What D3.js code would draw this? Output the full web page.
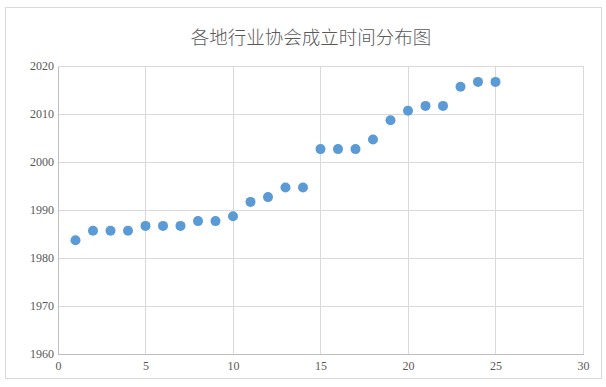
<!DOCTYPE html>
<html>
<head>
<meta charset="utf-8">
<script src="https://cdn.jsdelivr.net/npm/d3@7"></script>
<style>
  body { margin: 0; background: #fff; }
  svg { display: block; }
  .tick text { font-family: "Liberation Serif", "DejaVu Serif", serif; }
</style>
</head>
<body>
<svg id="chart" width="606" height="387"></svg>
<script>
// association index and founding year
const idx = [1,2,3,4,5,6,7,8,9,10,11,12,13,14,15,16,17,18,19,20,21,22,23,24,25];
const years = [1984,1986,1986,1986,1987,1987,1987,1988,1988,1989,1992,1993,1995,1995,2003,2003,2003,2005,2009,2011,2012,2012,2016,2017,2017];
const xTicks = [0,5,10,15,20,25,30];
const yTicks = [1960,1970,1980,1990,2000,2010,2020];
const title = "各地行业协会成立时间分布图";

const svg = d3.select("#chart");
const margin = {top: 66, right: 23, bottom: 33, left: 58};
const width = 606, height = 387;

svg.append("rect")
  .attr("x", 5.5).attr("y", 7.5)
  .attr("width", 596).attr("height", 371)
  .attr("fill", "#fff").attr("stroke", "#d9d9d9");

const x = d3.scaleLinear().domain([0, 30]).range([margin.left, width - margin.right]);
const y = d3.scaleLinear().domain([1960, 2020]).range([height - margin.bottom, margin.top]);

// grid
const grid = svg.append("g").attr("stroke", "#d9d9d9").attr("shape-rendering", "crispEdges");
grid.selectAll(".gx").data(xTicks.slice(1)).join("line")
  .attr("x1", d => x(d)).attr("x2", d => x(d))
  .attr("y1", y(1960)).attr("y2", y(2020));
grid.selectAll(".gy").data(yTicks.slice(1)).join("line")
  .attr("x1", x(0)).attr("x2", x(30))
  .attr("y1", d => y(d)).attr("y2", d => y(d));

// axes
const xAxis = svg.append("g")
  .attr("transform", `translate(0,${y(1960)})`)
  .call(d3.axisBottom(x).tickValues(xTicks).tickSize(0).tickPadding(7));
const yAxis = svg.append("g")
  .attr("transform", `translate(${x(0)},0)`)
  .call(d3.axisLeft(y).tickValues(yTicks).tickFormat(d3.format("d")).tickSize(0).tickPadding(4));

[xAxis, yAxis].forEach(a => {
  a.attr("font-family", "'Liberation Serif', 'DejaVu Serif', serif").attr("font-size", 12);
  a.select(".domain").attr("stroke", "#bfbfbf").attr("shape-rendering", "crispEdges");
  a.selectAll("text").attr("fill", "#595959");
});

// points (markers sit ~1.5px low in the original rendering)
svg.append("g")
  .attr("transform", "translate(0,1.5)")
  .selectAll("circle")
  .data(idx)
  .join("circle")
    .attr("cx", (d) => x(d))
    .attr("cy", (d, i) => y(years[i]))
    .attr("r", 5)
    .attr("fill", "#5b9bd5");

svg.append("text")
  .attr("x", width / 2 + 8)
  .attr("y", 44)
  .attr("text-anchor", "middle")
  .attr("fill", "#595959")
  .style("font-family", "'Noto Sans CJK SC', sans-serif")
  .style("font-weight", 300)
  .style("font-size", "18.5px")
  .text(title);
</script>
</body>
</html>
